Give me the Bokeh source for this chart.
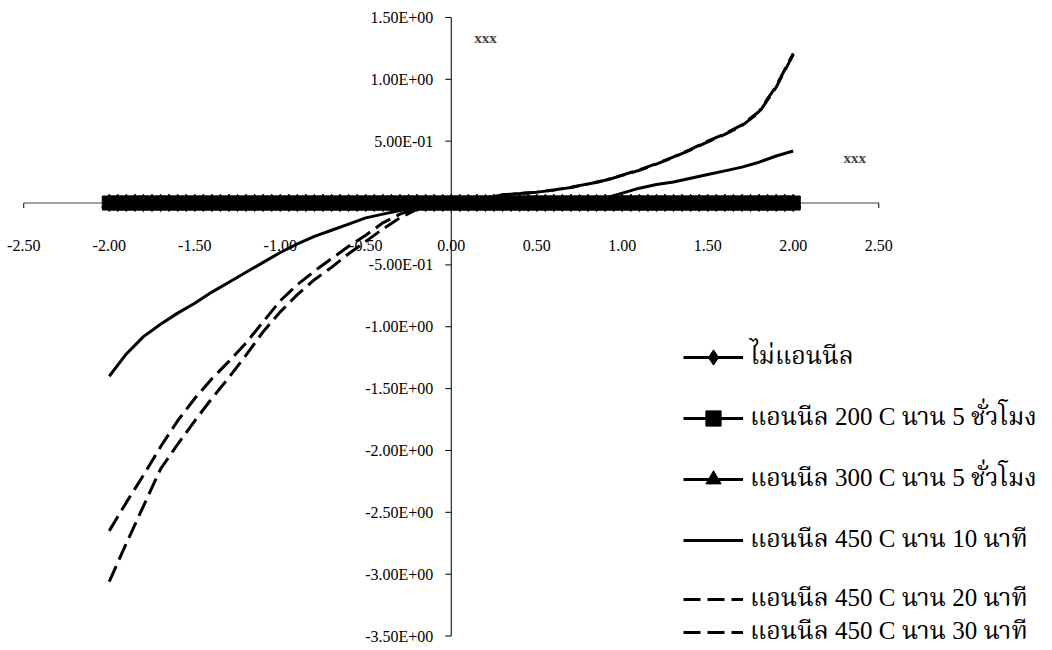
import math
from bokeh.plotting import figure
from bokeh.models import Legend, LegendItem, Label, Range1d
from bokeh.embed import file_html
from bokeh.resources import INLINE
from bokeh.core.properties import value

# ---------------- data ----------------
# voltage sweep for the three (flat) marker series
V_fine = [-2.00, -1.95, -1.90, -1.85, -1.80, -1.75, -1.70, -1.65, -1.60, -1.55,
          -1.50, -1.45, -1.40, -1.35, -1.30, -1.25, -1.20, -1.15, -1.10, -1.05,
          -1.00, -0.95, -0.90, -0.85, -0.80, -0.75, -0.70, -0.65, -0.60, -0.55,
          -0.50, -0.45, -0.40, -0.35, -0.30, -0.25, -0.20, -0.15, -0.10, -0.05,
          0.00, 0.05, 0.10, 0.15, 0.20, 0.25, 0.30, 0.35, 0.40, 0.45,
          0.50, 0.55, 0.60, 0.65, 0.70, 0.75, 0.80, 0.85, 0.90, 0.95,
          1.00, 1.05, 1.10, 1.15, 1.20, 1.25, 1.30, 1.35, 1.40, 1.45,
          1.50, 1.55, 1.60, 1.65, 1.70, 1.75, 1.80, 1.85, 1.90, 1.95, 2.00]

I_no_anneal = [0.0, 0.0, 0.0, 0.0, 0.0, 0.0, 0.0, 0.0, 0.0, 0.0,
               0.0, 0.0, 0.0, 0.0, 0.0, 0.0, 0.0, 0.0, 0.0, 0.0,
               0.0, 0.0, 0.0, 0.0, 0.0, 0.0, 0.0, 0.0, 0.0, 0.0,
               0.0, 0.0, 0.0, 0.0, 0.0, 0.0, 0.0, 0.0, 0.0, 0.0,
               0.0, 0.0, 0.0, 0.0, 0.0, 0.0, 0.0, 0.0, 0.0, 0.0,
               0.0, 0.0, 0.0, 0.0, 0.0, 0.0, 0.0, 0.0, 0.0, 0.0,
               0.0, 0.0, 0.0, 0.0, 0.0, 0.0, 0.0, 0.0, 0.0, 0.0,
               0.0, 0.0, 0.0, 0.0, 0.0, 0.0, 0.0, 0.0, 0.0, 0.0, 0.0]

I_200C_5h = [0.0, 0.0, 0.0, 0.0, 0.0, 0.0, 0.0, 0.0, 0.0, 0.0,
             0.0, 0.0, 0.0, 0.0, 0.0, 0.0, 0.0, 0.0, 0.0, 0.0,
             0.0, 0.0, 0.0, 0.0, 0.0, 0.0, 0.0, 0.0, 0.0, 0.0,
             0.0, 0.0, 0.0, 0.0, 0.0, 0.0, 0.0, 0.0, 0.0, 0.0,
             0.0, 0.0, 0.0, 0.0, 0.0, 0.0, 0.0, 0.0, 0.0, 0.0,
             0.0, 0.0, 0.0, 0.0, 0.0, 0.0, 0.0, 0.0, 0.0, 0.0,
             0.0, 0.0, 0.0, 0.0, 0.0, 0.0, 0.0, 0.0, 0.0, 0.0,
             0.0, 0.0, 0.0, 0.0, 0.0, 0.0, 0.0, 0.0, 0.0, 0.0, 0.0]

I_300C_5h = [0.0, 0.0, 0.0, 0.0, 0.0, 0.0, 0.0, 0.0, 0.0, 0.0,
             0.0, 0.0, 0.0, 0.0, 0.0, 0.0, 0.0, 0.0, 0.0, 0.0,
             0.0, 0.0, 0.0, 0.0, 0.0, 0.0, 0.0, 0.0, 0.0, 0.0,
             0.0, 0.0, 0.0, 0.0, 0.0, 0.0, 0.0, 0.0, 0.0, 0.0,
             0.0, 0.0, 0.0, 0.0, 0.0, 0.0, 0.0, 0.0, 0.0, 0.0,
             0.0, 0.0, 0.0, 0.0, 0.0, 0.0, 0.0, 0.0, 0.0, 0.0,
             0.0, 0.0, 0.0, 0.0, 0.0, 0.0, 0.0, 0.0, 0.0, 0.0,
             0.0, 0.0, 0.0, 0.0, 0.0, 0.0, 0.0, 0.0, 0.0, 0.0, 0.0]

# voltage sweep for the 450 C curves
V = [-2.0, -1.9, -1.8, -1.7, -1.6, -1.5, -1.4, -1.3, -1.2, -1.1,
     -1.0, -0.9, -0.8, -0.7, -0.6, -0.5, -0.4, -0.3, -0.2, -0.1,
     0.0, 0.1, 0.2, 0.3, 0.4, 0.5, 0.6, 0.7, 0.8, 0.9,
     1.0, 1.1, 1.2, 1.3, 1.4, 1.5, 1.6, 1.7, 1.8, 1.9, 2.0]

I_450C_10m = [-1.40, -1.22, -1.08, -0.98, -0.89, -0.81, -0.72, -0.64, -0.56, -0.48,
              -0.40, -0.33, -0.27, -0.22, -0.17, -0.12, -0.09, -0.06, -0.03, -0.01,
              0.00, 0.00, 0.00, 0.00, 0.00, 0.00, 0.00, 0.01, 0.02, 0.04,
              0.08, 0.12, 0.15, 0.17, 0.20, 0.23, 0.26, 0.29, 0.33, 0.38, 0.42]

I_450C_20m = [-2.65, -2.42, -2.20, -1.97, -1.76, -1.58, -1.42, -1.28, -1.13, -0.96,
              -0.79, -0.66, -0.55, -0.45, -0.35, -0.26, -0.16, -0.09, -0.04, -0.01,
              0.00, 0.015, 0.04, 0.066, 0.076, 0.087, 0.105, 0.126, 0.154, 0.182,
              0.223, 0.265, 0.315, 0.37, 0.43, 0.495, 0.555, 0.626, 0.731, 0.936, 1.20]

I_450C_30m = [-3.06, -2.75, -2.45, -2.15, -1.95, -1.76, -1.58, -1.41, -1.23, -1.04,
              -0.88, -0.74, -0.62, -0.52, -0.41, -0.31, -0.21, -0.12, -0.05, -0.01,
              0.00, 0.015, 0.04, 0.066, 0.077, 0.088, 0.106, 0.127, 0.155, 0.184,
              0.225, 0.268, 0.318, 0.373, 0.434, 0.50, 0.56, 0.632, 0.74, 0.945, 1.21]

x_ticks = [-2.5, -2.0, -1.5, -1.0, -0.5, 0.0, 0.5, 1.0, 1.5, 2.0, 2.5]
x_tick_labels = ["-2.50", "-2.00", "-1.50", "-1.00", "-0.50", "0.00",
                 "0.50", "1.00", "1.50", "2.00", "2.50"]
y_ticks = [1.5, 1.0, 0.5, 0.0, -0.5, -1.0, -1.5, -2.0, -2.5, -3.0, -3.5]
y_label_ticks = [1.5, 1.0, 0.5, -0.5, -1.0, -1.5, -2.0, -2.5, -3.0, -3.5]
y_tick_labels = ["1.50E+00", "1.00E+00", "5.00E-01", "-5.00E-01", "-1.00E+00",
                 "-1.50E+00", "-2.00E+00", "-2.50E+00", "-3.00E+00", "-3.50E+00"]

series_labels = ["ไม่แอนนีล",
                 "แอนนีล 200 C นาน 5 ชั่วโมง",
                 "แอนนีล 300 C นาน 5 ชั่วโมง",
                 "แอนนีล 450 C นาน 10 นาที",
                 "แอนนีล 450 C นาน 20 นาที",
                 "แอนนีล 450 C นาน 30 นาที"]
x_title = "xxx"
y_title = "xxx"

# ---------------- figure ----------------
FONT = "Liberation Serif"
THAI_FONT = "'Liberation Serif', 'Noto Serif Thai', 'Norasi', serif"
p = figure(width=1052, height=650, output_backend="svg", toolbar_location=None,
           x_range=Range1d(-2.636, 3.516), y_range=Range1d(-3.617, 1.637),
           x_axis_location=None, y_axis_location=None, min_border=0)
p.grid.visible = False
p.outline_line_color = None
p.background_fill_color = "white"
p.border_fill_color = "white"

# axes drawn at the origin
p.segment(x0=[min(x_ticks)], y0=[0], x1=[max(x_ticks)], y1=[0], line_color="#444444", line_width=1)
p.segment(x0=[0], y0=[min(y_ticks)], x1=[0], y1=[max(y_ticks)], line_color="black", line_width=1)
p.ray(x=x_ticks, y=[0] * len(x_ticks), length=5, length_units="screen",
      angle=-math.pi / 2, line_color="black", line_width=1)
p.ray(x=[0] * len(y_ticks), y=y_ticks, length=6, length_units="screen",
      angle=math.pi, line_color="black", line_width=1)
p.text(x=x_ticks, y=[0] * len(x_ticks), text=x_tick_labels, y_offset=42,
       text_align="center", text_baseline="middle", text_font=value(FONT),
       text_font_size="16px", text_color="black")
p.text(x=[0] * len(y_label_ticks), y=y_label_ticks, text=y_tick_labels, x_offset=-18,
       text_align="right", text_baseline="middle", text_font=value(FONT),
       text_font_size="16px", text_color="black")

p.add_layout(Label(x=0.2, y=1.33, text=y_title, text_font=FONT, text_font_style="bold",
                   text_font_size="15px", text_align="center", text_baseline="middle"))
p.add_layout(Label(x=2.36, y=0.36, text=x_title, text_font=FONT, text_font_style="bold",
                   text_font_size="15px", text_align="center", text_baseline="middle"))

# flat marker series
l1 = p.line(V_fine, I_no_anneal, line_color="black", line_width=3)
m1 = p.scatter(V_fine, I_no_anneal, marker="diamond", size=17, color="black")
l2 = p.line(V_fine, I_200C_5h, line_color="black", line_width=3)
m2 = p.scatter(V_fine, I_200C_5h, marker="square", size=14, color="black")
l3 = p.line(V_fine, I_300C_5h, line_color="black", line_width=3)
m3 = p.scatter(V_fine, I_300C_5h, marker="triangle", size=15, color="black")

# 450 C curves
l4 = p.line(V, I_450C_10m, line_color="black", line_width=3)
l5 = p.line(V, I_450C_20m, line_color="black", line_width=3, line_dash="17 7")
l6 = p.line(V, I_450C_30m, line_color="black", line_width=3, line_dash="17 7")

renderers = [[l1, m1], [l2, m2], [l3, m3], [l4], [l5], [l6]]
items = [LegendItem(label=series_labels[i], renderers=renderers[i]) for i in range(6)]

common = dict(padding=0, border_line_color=None, background_fill_alpha=0,
              glyph_width=60, label_height=20, label_standoff=7,
              label_text_font=THAI_FONT, label_text_font_size="25px",
              label_text_color="black", label_text_baseline="middle", margin=0)
leg1 = Legend(items=items[:4], location=(683, 90), spacing=21, glyph_height=38, **common)
leg2 = Legend(items=items[4:5], location=(683, 31), spacing=0, glyph_height=32, **common)
leg3 = Legend(items=items[5:], location=(683, -2), spacing=0, glyph_height=32, **common)
p.add_layout(leg1, "center")
p.add_layout(leg2, "center")
p.add_layout(leg3, "center")

open("out.html", "w").write(file_html(p, INLINE))
